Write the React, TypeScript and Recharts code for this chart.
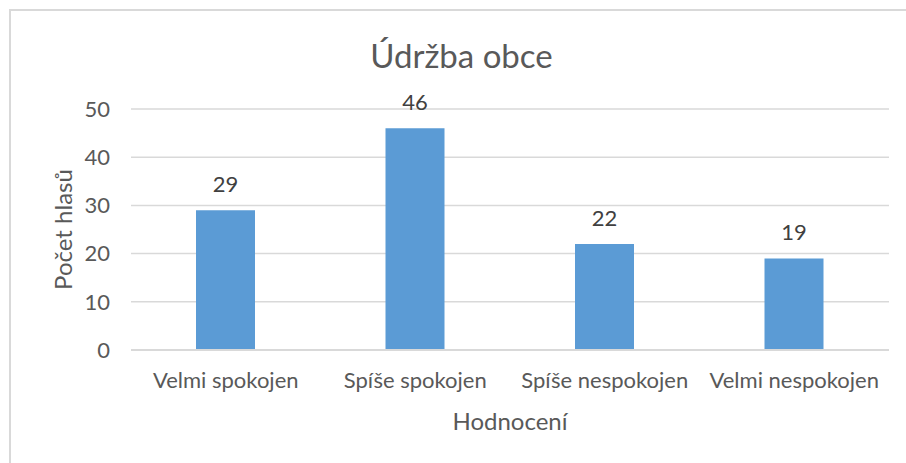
import React from "react";
import { BarChart, Bar, XAxis, YAxis, CartesianGrid, LabelList, Label } from "recharts";

const categories = ["Velmi spokojen", "Spíše spokojen", "Spíše nespokojen", "Velmi nespokojen"];
const votes = [29, 46, 22, 19];
const yTicks = [0, 10, 20, 30, 40, 50];

const data = categories.map((c, i) => ({ name: c, value: votes[i] }));

const FONT = "Lato, 'Open Sans', sans-serif";
const FS = 22;
const FS_TITLE = 24;

export default function App() {
  return (
    <div style={{ position: "absolute", left: 0, top: 0, width: 906, height: 463, overflow: "hidden", background: "#fff" }}>
      <div style={{ position: "absolute", left: 9, top: 9, width: 1000, height: 1000, border: "2px solid #d9d9d9", boxSizing: "border-box" }} />
      <div style={{ position: "absolute", left: 0, top: 35, width: 923, textAlign: "center", fontFamily: FONT, fontSize: 33, color: "#595959" }}>
        Údržba obce
      </div>
      <div style={{ position: "absolute", left: 0, top: 0 }}>
        <BarChart width={906} height={463} data={data} margin={{ top: 109, right: 17, bottom: 23, left: 0 }} barSize={59}>
          <CartesianGrid vertical={false} stroke="#d9d9d9" strokeWidth={1.5} />
          <XAxis
            dataKey="name"
            height={90}
            tickLine={false}
            axisLine={{ stroke: "#d9d9d9", strokeWidth: 2 }}
            tickSize={0}
            tickMargin={22}
            interval={0}
            tick={{ fill: "#595959", fontSize: FS, fontFamily: FONT }}
          >
            <Label value="Hodnocení" position="insideBottom" offset={10} style={{ fill: "#595959", fontSize: FS_TITLE, fontFamily: FONT }} />
          </XAxis>
          <YAxis
            width={131}
            domain={[0, 50]}
            ticks={yTicks}
            tickLine={false}
            axisLine={false}
            tickSize={0}
            tickMargin={21}
            tick={{ fill: "#595959", fontSize: FS, fontFamily: FONT }}
          >
            <Label value="Počet hlasů" angle={-90} position="insideLeft" offset={63} style={{ textAnchor: "middle", fill: "#595959", fontSize: FS_TITLE, fontFamily: FONT }} />
          </YAxis>
          <Bar dataKey="value" fill="#5B9BD5" isAnimationActive={false}>
            <LabelList dataKey="value" position="top" offset={18} style={{ fill: "#404040", fontSize: FS, fontFamily: FONT }} />
          </Bar>
        </BarChart>
      </div>
    </div>
  );
}
